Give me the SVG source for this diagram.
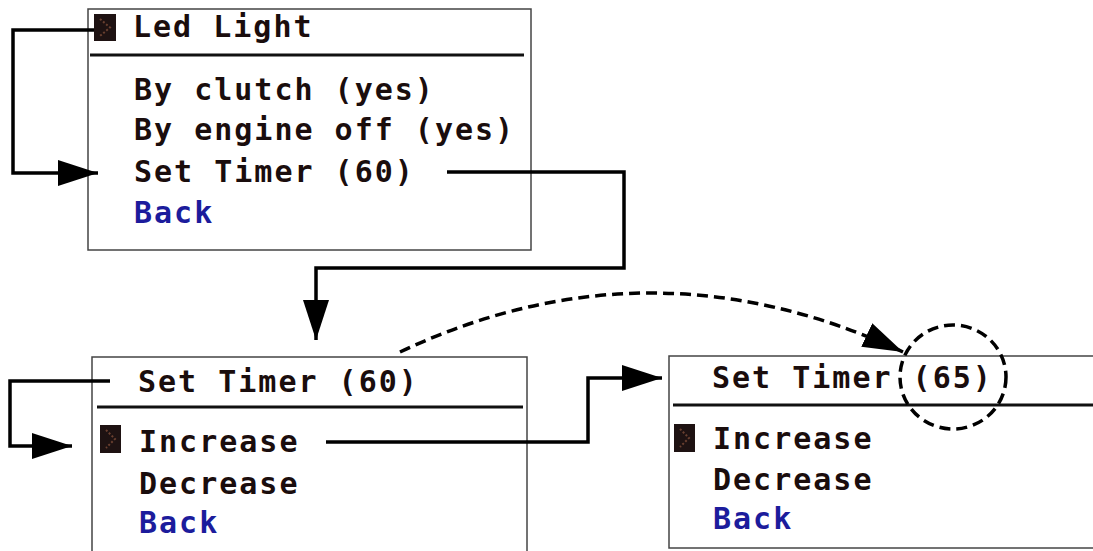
<svg xmlns="http://www.w3.org/2000/svg" width="1093" height="551" viewBox="0 0 1093 551">
<style>
.box{fill:#fff;stroke:#444;stroke-width:1.5}
.sep{stroke:#111;stroke-width:3}
.t{font-family:"DejaVu Sans Mono","Liberation Mono",monospace;font-weight:bold;font-size:30px;letter-spacing:2px;fill:#1a0d0d}
.b{fill:#1c1c9c}
.conn{fill:none;stroke:#000;stroke-width:3.5}
.dash{fill:none;stroke:#000;stroke-width:3.5;stroke-dasharray:11 6}
.ic{fill:#1e1212}
.chev{fill:none;stroke:#6a4030;stroke-width:2;stroke-dasharray:2 2}
</style>
<defs>
<marker id="ah" markerUnits="userSpaceOnUse" markerWidth="44" markerHeight="28" refX="40" refY="13" orient="auto">
<path d="M0,0 L40,13 L0,26 z" fill="#000"/>
</marker>
<marker id="ahd" markerUnits="userSpaceOnUse" markerWidth="44" markerHeight="28" refX="40" refY="13" orient="auto">
<path d="M0,0 L40,13 L0,26 z" fill="#000"/>
</marker>
</defs>
<g id="menu-led">
<rect class="box" x="88" y="9" width="443" height="241"/>
<rect class="ic" x="94" y="14" width="22" height="27"/>
<polyline class="chev" points="100,19 110,27.5 100,36"/>
<text class="t" x="133" y="37">Led Light</text>
<line class="sep" x1="90" y1="55" x2="524" y2="55"/>
<text class="t" x="134" y="100">By clutch (yes)</text>
<text class="t" x="134" y="140">By engine off (yes)</text>
<text class="t" x="134" y="182">Set Timer (60)</text>
<text class="t b" x="134" y="223">Back</text>
</g>
<g id="menu-timer60">
<rect class="box" x="92" y="357" width="435" height="200"/>
<text class="t" x="138" y="392">Set Timer (60)</text>
<line class="sep" x1="97" y1="407" x2="523" y2="407"/>
<rect class="ic" x="100" y="425" width="21" height="28"/>
<polyline class="chev" points="106,430 115,439 106,448"/>
<text class="t" x="139" y="452">Increase</text>
<text class="t" x="139" y="494">Decrease</text>
<text class="t b" x="139" y="533">Back</text>
</g>
<g id="menu-timer65">
<rect class="box" x="669" y="356" width="430" height="192"/>
<text class="t" x="712" y="388">Set Timer (65)</text>
<line class="sep" x1="673" y1="405" x2="1093" y2="405"/>
<rect class="ic" x="674" y="424" width="21" height="28"/>
<polyline class="chev" points="680,429 689,438 680,447"/>
<text class="t" x="713" y="449">Increase</text>
<text class="t" x="713" y="490">Decrease</text>
<text class="t b" x="713" y="529">Back</text>
<ellipse class="dash" cx="953" cy="377" rx="53" ry="52"/>
</g>
<g id="connectors">
<path class="conn" d="M94,30 H13 V173 H98" marker-end="url(#ah)"/>
<path class="conn" d="M447,172 H624 V268 H316 V340" marker-end="url(#ah)"/>
<path class="conn" d="M110,381 H10 V446 H72" marker-end="url(#ah)"/>
<path class="conn" d="M326,442 H588 V378 H662" marker-end="url(#ah)"/>
<path class="dash" d="M400,352 Q650,234 903,352" marker-end="url(#ahd)"/>
</g>
</svg>
